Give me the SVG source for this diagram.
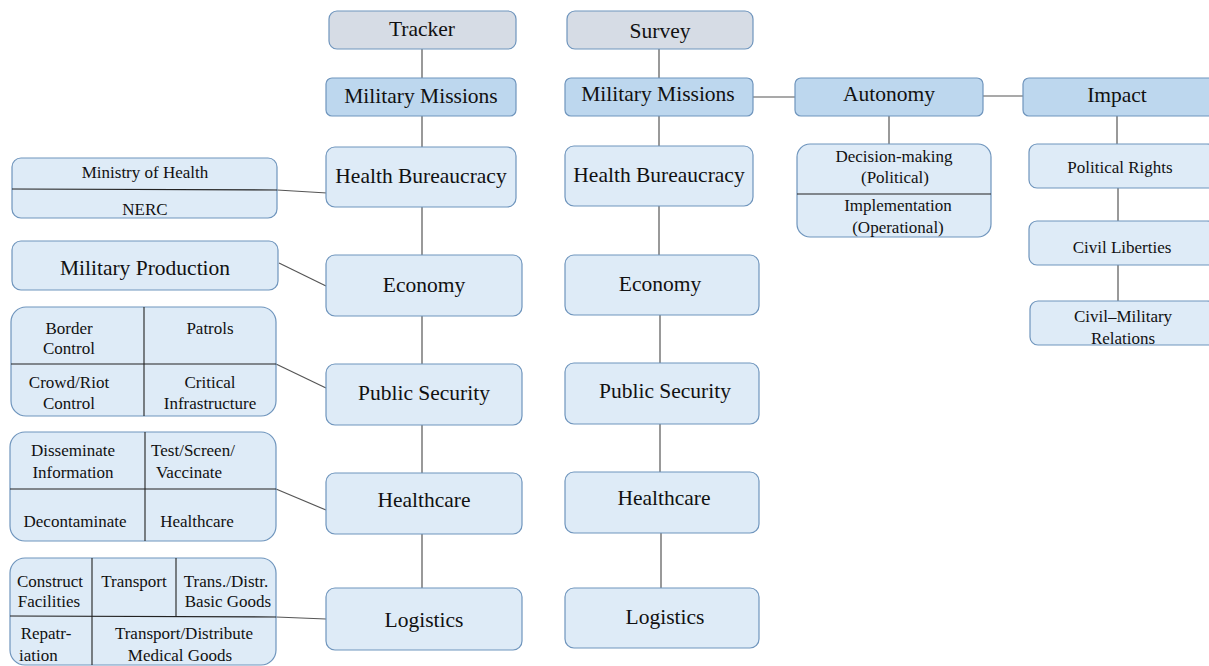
<svg xmlns="http://www.w3.org/2000/svg" width="1209" height="666" viewBox="0 0 1209 666">
<style>
.box{fill:#deebf7;stroke:#6f95bd;stroke-width:1.2}
.dark{fill:#bdd7ee;stroke:#6f95bd;stroke-width:1.2}
.top{fill:#d6dce5;stroke:#6f95bd;stroke-width:1.2}
.div{stroke:#222;stroke-width:1.1;fill:none}
.con{stroke:#555;stroke-width:1.2;fill:none}
text{font-family:"Liberation Serif","Times New Roman",serif;fill:#111;text-anchor:middle;dominant-baseline:central}
.l{font-size:21.5px}
.s{font-size:17px}
</style>
<rect width="1209" height="666" fill="#fff"/>
<g id="connectors">
<line class="con" x1="422" y1="49" x2="422" y2="78"/>
<line class="con" x1="422" y1="116" x2="422" y2="147"/>
<line class="con" x1="422" y1="207" x2="422" y2="255"/>
<line class="con" x1="422" y1="316" x2="422" y2="364"/>
<line class="con" x1="422" y1="425" x2="422" y2="473"/>
<line class="con" x1="422" y1="534" x2="422" y2="588"/>
<line class="con" x1="277" y1="190" x2="327" y2="193"/>
<line class="con" x1="279" y1="263" x2="326" y2="286"/>
<line class="con" x1="276" y1="364" x2="326" y2="388"/>
<line class="con" x1="276" y1="489" x2="326" y2="510"/>
<line class="con" x1="276" y1="617" x2="326" y2="619"/>
<line class="con" x1="659" y1="49" x2="659" y2="78"/>
<line class="con" x1="659" y1="116" x2="659" y2="146"/>
<line class="con" x1="659" y1="206" x2="659" y2="255"/>
<line class="con" x1="660" y1="315" x2="660" y2="363"/>
<line class="con" x1="660" y1="424" x2="660" y2="472"/>
<line class="con" x1="661" y1="533" x2="661" y2="588"/>
<line class="con" x1="753" y1="97" x2="795" y2="97"/>
<line class="con" x1="983" y1="96" x2="1023" y2="96"/>
<line class="con" x1="889" y1="116" x2="889" y2="144"/>
<line class="con" x1="1117" y1="116" x2="1117" y2="144"/>
<line class="con" x1="1118" y1="188" x2="1118" y2="221"/>
<line class="con" x1="1118" y1="265" x2="1118" y2="301"/>
</g>
<g id="tracker"><rect class="top" x="329" y="11" width="187" height="38" rx="8"/><text class="l" x="422" y="29">Tracker</text></g>
<g id="mm-left"><rect class="dark" x="326" y="78" width="190" height="38" rx="6"/><text class="l" x="421" y="96">Military Missions</text></g>
<g id="hb-left"><rect class="box" x="326" y="147" width="190" height="60" rx="9"/><text class="l" x="421" y="176">Health Bureaucracy</text></g>
<g id="econ-left"><rect class="box" x="326" y="255" width="196" height="61" rx="9"/><text class="l" x="424" y="285">Economy</text></g>
<g id="ps-left"><rect class="box" x="326" y="364" width="196" height="61" rx="9"/><text class="l" x="424" y="393">Public Security</text></g>
<g id="hc-left"><rect class="box" x="326" y="473" width="196" height="61" rx="9"/><text class="l" x="424" y="500">Healthcare</text></g>
<g id="log-left"><rect class="box" x="326" y="588" width="196" height="62" rx="9"/><text class="l" x="424" y="620">Logistics</text></g>
<g id="moh"><rect class="box" x="12" y="158" width="265" height="60" rx="9"/><line class="div" x1="12" y1="189" x2="277" y2="190"/><text class="s" x="145" y="172">Ministry  of Health</text><text class="s" x="145" y="209">NERC</text></g>
<g id="milprod"><rect class="box" x="12" y="241" width="266" height="49" rx="9"/><text class="l" x="145" y="268">Military Production</text></g>
<g id="pubsec-sub"><rect class="box" x="11" y="307" width="265" height="109" rx="15"/><line class="div" x1="11" y1="364" x2="276" y2="364"/><line class="div" x1="144" y1="307" x2="144" y2="416"/>
<text class="s" x="69" y="328">Border</text><text class="s" x="69" y="348">Control</text>
<text class="s" x="210" y="328">Patrols</text>
<text class="s" x="69" y="382">Crowd/Riot</text><text class="s" x="69" y="403">Control</text>
<text class="s" x="210" y="382">Critical</text><text class="s" x="210" y="403">Infrastructure</text></g>
<g id="health-sub"><rect class="box" x="10" y="432" width="266" height="109" rx="15"/><line class="div" x1="10" y1="489" x2="276" y2="489"/><line class="div" x1="145" y1="432" x2="145" y2="541"/>
<text class="s" x="73" y="450">Disseminate</text><text class="s" x="73" y="472">Information</text>
<text class="s" x="193" y="450">Test/Screen/</text><text class="s" x="189" y="472">Vaccinate</text>
<text class="s" x="75" y="521">Decontaminate</text><text class="s" x="197" y="521">Healthcare</text></g>
<g id="log-sub"><rect class="box" x="10" y="558" width="266" height="107" rx="15"/><line class="div" x1="10" y1="616" x2="276" y2="617"/><line class="div" x1="92" y1="558" x2="92" y2="665"/><line class="div" x1="176" y1="558" x2="176" y2="617"/>
<text class="s" x="50" y="581">Construct</text><text class="s" x="49" y="601">Facilities</text>
<text class="s" x="134" y="581">Transport</text>
<text class="s" x="226" y="581">Trans./Distr.</text><text class="s" x="228" y="601">Basic Goods</text>
<text class="s" x="46" y="633">Repatr-</text><text class="s" x="19" y="655" style="text-anchor:start">iation</text>
<text class="s" x="184" y="633">Transport/Distribute</text><text class="s" x="180" y="655">Medical  Goods</text></g>
<g id="survey"><rect class="top" x="567" y="11" width="186" height="38" rx="8"/><text class="l" x="660" y="31">Survey</text></g>
<g id="mm-right"><rect class="dark" x="565" y="78" width="188" height="38" rx="6"/><text class="l" x="658" y="94">Military Missions</text></g>
<g id="hb-right"><rect class="box" x="565" y="146" width="188" height="60" rx="9"/><text class="l" x="659" y="175">Health Bureaucracy</text></g>
<g id="econ-right"><rect class="box" x="565" y="255" width="194" height="60" rx="9"/><text class="l" x="660" y="284">Economy</text></g>
<g id="ps-right"><rect class="box" x="565" y="363" width="194" height="61" rx="9"/><text class="l" x="665" y="391">Public Security</text></g>
<g id="hc-right"><rect class="box" x="565" y="472" width="194" height="61" rx="9"/><text class="l" x="664" y="498">Healthcare</text></g>
<g id="log-right"><rect class="box" x="565" y="588" width="194" height="60" rx="9"/><text class="l" x="665" y="617">Logistics</text></g>
<g id="autonomy"><rect class="dark" x="795" y="78" width="188" height="38" rx="6"/><text class="l" x="889" y="94">Autonomy</text></g>
<g id="impact"><rect class="dark" x="1023" y="78" width="192" height="38" rx="6"/><text class="l" x="1117" y="95">Impact</text></g>
<g id="decision"><rect class="box" x="797" y="144" width="194" height="93" rx="13"/><line class="div" x1="797" y1="194" x2="991" y2="194"/>
<text class="s" x="894" y="156">Decision-making</text><text class="s" x="895" y="177">(Political)</text>
<text class="s" x="898" y="205">Implementation</text><text class="s" x="898" y="227">(Operational)</text></g>
<g id="polrights"><rect class="box" x="1029" y="144" width="186" height="44" rx="8"/><text class="s" x="1120" y="167">Political  Rights</text></g>
<g id="civlib"><rect class="box" x="1029" y="221" width="186" height="44" rx="8"/><text class="s" x="1122" y="247">Civil  Liberties</text></g>
<g id="civmil"><rect class="box" x="1030" y="301" width="185" height="44" rx="8"/><text class="s" x="1123" y="316">Civil–Military</text><text class="s" x="1123" y="338">Relations</text></g>
</svg>
